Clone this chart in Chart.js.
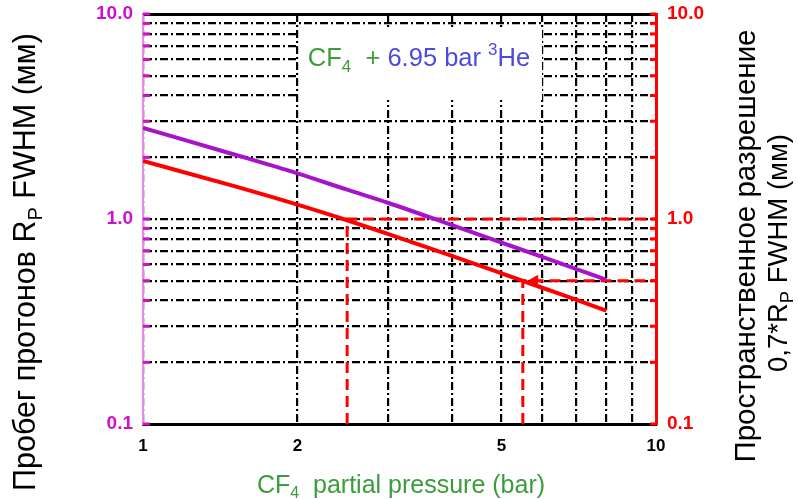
<!DOCTYPE html>
<html>
<head>
<meta charset="utf-8">
<script src="https://cdn.jsdelivr.net/npm/chart.js@4/dist/chart.umd.min.js"></script>
<style>
  html, body { margin: 0; padding: 0; background: #fff; }
  #wrap { position: relative; width: 798px; height: 499px; }
</style>
</head>
<body>
<div id="wrap"><canvas id="grafico" width="798" height="499"></canvas></div>
<script>
// Datos
const presion = [1, 1.5, 2, 2.5, 3, 4, 5, 6, 7, 8];            // CF4 partial pressure (bar)
const rangoRp = [2.78, 2.07, 1.67, 1.39, 1.2, 0.934, 0.767, 0.653, 0.569, 0.505];   // R_P FWHM (мм)
const resolucion = [1.92, 1.45, 1.175, 0.986, 0.847, 0.661, 0.543, 0.462, 0.403, 0.357]; // 0,7*R_P (мм)

// Líneas de referencia discontinuas
const guia1X = [2.5, 2.5, 10];
const guia1Y = [0.1, 1.0, 1.0];
const guia2X = [5.5, 5.5, 10];
const guia2Y = [0.1, 0.5, 0.5];
const flechaX = [5.8];
const flechaY = [0.5];

// Marcas de los ejes
const ticksX = [1, 2, 3, 4, 5, 6, 7, 8, 9, 10];
const etiquetasX = { 1: '1', 2: '2', 5: '5', 10: '10' };
const ticksY = [0.1, 0.2, 0.3, 0.4, 0.5, 0.6, 0.7, 0.8, 0.9, 1, 2, 3, 4, 5, 6, 7, 8, 9, 10];
const etiquetasY = ['0.1', '1.0', '10.0'];
const valoresEtiquetaY = [0.1, 1, 10];

const puntos = (xs, ys) => xs.map((x, i) => ({ x: x, y: ys[i] }));

function etiquetaY(v) {
    for (let i = 0; i < valoresEtiquetaY.length; i++) {
        if (Math.abs(v - valoresEtiquetaY[i]) < 1e-9) return etiquetasY[i];
    }
    return '';
}

const MAGENTA = '#cc11cc';
const ROJO = '#ff0000';
const PUNTEADO = [8, 3, 2, 3];

// Dibuja texto con sub/superíndices, centrado en (0,0) del sistema actual
function textoCompuesto(ctx, partes, familia) {
    let ancho = 0;
    partes.forEach(p => {
        ctx.font = p.size + 'px ' + familia;
        p.w = ctx.measureText(p.t).width;
        ancho += p.w;
    });
    let x = -ancho / 2;
    partes.forEach(p => {
        ctx.font = p.size + 'px ' + familia;
        ctx.fillStyle = p.color || '#000';
        ctx.fillText(p.t, x, p.dy || 0);
        x += p.w;
    });
}

const titulos = {
    id: 'titulos',
    beforeDatasetsDraw(chart) {
        // fondo blanco de la anotación (tapa la rejilla)
        const ctx = chart.ctx;
        const area = chart.chartArea;
        ctx.save();
        ctx.fillStyle = '#fff';
        ctx.fillRect(area.left + 156, area.top + 14, 243, 72);
        ctx.restore();
    },
    afterDraw(chart) {
        const ctx = chart.ctx;
        const area = chart.chartArea;
        const yIzq = chart.scales.y;
        const yDer = chart.scales.y2;
        ctx.save();
        ctx.textBaseline = 'alphabetic';
        ctx.textAlign = 'left';

        // marcas cortas dentro del área, en cada línea horizontal
        ticksY.forEach(v => {
            const py = yIzq.getPixelForValue(v);
            ctx.strokeStyle = MAGENTA;
            ctx.lineWidth = 3;
            ctx.beginPath();
            ctx.moveTo(area.left, py);
            ctx.lineTo(area.left + 7, py);
            ctx.stroke();
            ctx.strokeStyle = ROJO;
            ctx.beginPath();
            ctx.moveTo(area.right - 6, yDer.getPixelForValue(v));
            ctx.lineTo(area.right, yDer.getPixelForValue(v));
            ctx.stroke();
        });

        const fam = '"Liberation Sans", Arial, sans-serif';

        // título izquierdo
        ctx.save();
        ctx.translate(35, 262);
        ctx.rotate(-Math.PI / 2);
        textoCompuesto(ctx, [
            { t: 'Пробег протонов R', size: 30.5 },
            { t: 'P', size: 20, dy: 7 },
            { t: ' FWHM (мм)', size: 30.5 }
        ], fam);
        ctx.restore();

        // título derecho, dos líneas
        ctx.save();
        ctx.translate(755, 246);
        ctx.rotate(-Math.PI / 2);
        textoCompuesto(ctx, [{ t: 'Пространственное разрешение', size: 29.5 }], fam);
        ctx.restore();
        ctx.save();
        ctx.translate(787, 253);
        ctx.rotate(-Math.PI / 2);
        textoCompuesto(ctx, [
            { t: '0,7*R', size: 27.5 },
            { t: 'P', size: 18.5, dy: 6 },
            { t: ' FWHM (мм)', size: 27.5 }
        ], fam);
        ctx.restore();

        // título eje x
        const verde = '#3c9c3c';
        ctx.save();
        ctx.translate(401, 493);
        textoCompuesto(ctx, [
            { t: 'CF', size: 25, color: verde },
            { t: '4', size: 16, dy: 5, color: verde },
            { t: '  partial pressure (bar)', size: 25, color: verde }
        ], fam);
        ctx.restore();

        // anotación
        const azul = '#4a4ae0';
        ctx.save();
        ctx.translate(419, 66);
        textoCompuesto(ctx, [
            { t: 'CF', size: 25.5, color: verde },
            { t: '4', size: 17, dy: 6, color: verde },
            { t: '  + ', size: 25.5, color: verde },
            { t: '6.95 bar ', size: 25.5, color: azul },
            { t: '3', size: 17, dy: -11, color: azul },
            { t: 'He', size: 25.5, color: azul }
        ], fam);
        ctx.restore();

        ctx.restore();
    }
};

const fuenteEje = { family: '"Liberation Sans", Arial, sans-serif', size: 19, weight: 'bold' };

new Chart(document.getElementById('grafico').getContext('2d'), {
    type: 'line',
    data: {
        datasets: [
            {
                data: puntos(presion, rangoRp),
                borderColor: '#a812c8',
                borderWidth: 4,
                pointRadius: 0,
                cubicInterpolationMode: 'monotone'
            },
            {
                data: puntos(presion, resolucion),
                borderColor: ROJO,
                borderWidth: 4,
                pointRadius: 0,
                cubicInterpolationMode: 'monotone'
            },
            {
                data: puntos(guia1X, guia1Y),
                borderColor: ROJO,
                borderWidth: 3,
                borderDash: [11, 6],
                pointRadius: 0
            },
            {
                data: puntos(guia2X, guia2Y),
                borderColor: ROJO,
                borderWidth: 3,
                borderDash: [11, 6],
                pointRadius: 0
            },
            {
                data: puntos(flechaX, flechaY),
                showLine: false,
                pointStyle: 'triangle',
                rotation: -90,
                pointRadius: 6,
                backgroundColor: ROJO,
                borderColor: ROJO
            }
        ]
    },
    options: {
        responsive: false,
        animation: false,
        layout: { padding: 0 },
        plugins: { legend: { display: false }, tooltip: { enabled: false } },
        scales: {
            x: {
                type: 'logarithmic',
                position: 'bottom',
                min: 1,
                max: 10,
                afterBuildTicks: s => { s.ticks = ticksX.map(v => ({ value: v })); },
                afterFit: s => { s.height = 75; s.paddingLeft = 0; s.paddingRight = 0; },
                ticks: {
                    autoSkip: false,
                    maxRotation: 0,
                    padding: 12,
                    color: '#000',
                    font: { family: '"Liberation Sans", Arial, sans-serif', size: 17, weight: 'bold' },
                    callback: v => etiquetasX[v] || ''
                },
                grid: { color: '#000', lineWidth: 2.2, drawTicks: false },
                border: { color: '#000', width: 3, dash: PUNTEADO }
            },
            x2: {
                type: 'logarithmic',
                position: 'top',
                min: 1,
                max: 10,
                afterFit: s => { s.height = 14; },
                ticks: { display: false },
                grid: { drawOnChartArea: false, drawTicks: false },
                border: { color: '#000', width: 3 }
            },
            y: {
                type: 'logarithmic',
                position: 'left',
                min: 0.1,
                max: 10,
                afterBuildTicks: s => { s.ticks = ticksY.map(v => ({ value: v })); },
                afterFit: s => { s.width = 143; s.paddingTop = 0; s.paddingBottom = 0; },
                ticks: {
                    autoSkip: false,
                    padding: 10,
                    color: MAGENTA,
                    font: fuenteEje,
                    callback: v => etiquetaY(v)
                },
                grid: { color: '#000', lineWidth: 2.2, drawTicks: false },
                border: { color: '#e58ae5', width: 2, dash: PUNTEADO }
            },
            y2: {
                type: 'logarithmic',
                position: 'right',
                min: 0.1,
                max: 10,
                afterBuildTicks: s => { s.ticks = ticksY.map(v => ({ value: v })); },
                afterFit: s => { s.width = 142; s.paddingTop = 0; s.paddingBottom = 0; },
                ticks: {
                    autoSkip: false,
                    padding: 11,
                    color: ROJO,
                    font: fuenteEje,
                    callback: v => etiquetaY(v)
                },
                grid: { drawOnChartArea: false, drawTicks: false },
                border: { color: ROJO, width: 3 }
            }
        }
    },
    plugins: [titulos]
});
</script>
</body>
</html>
